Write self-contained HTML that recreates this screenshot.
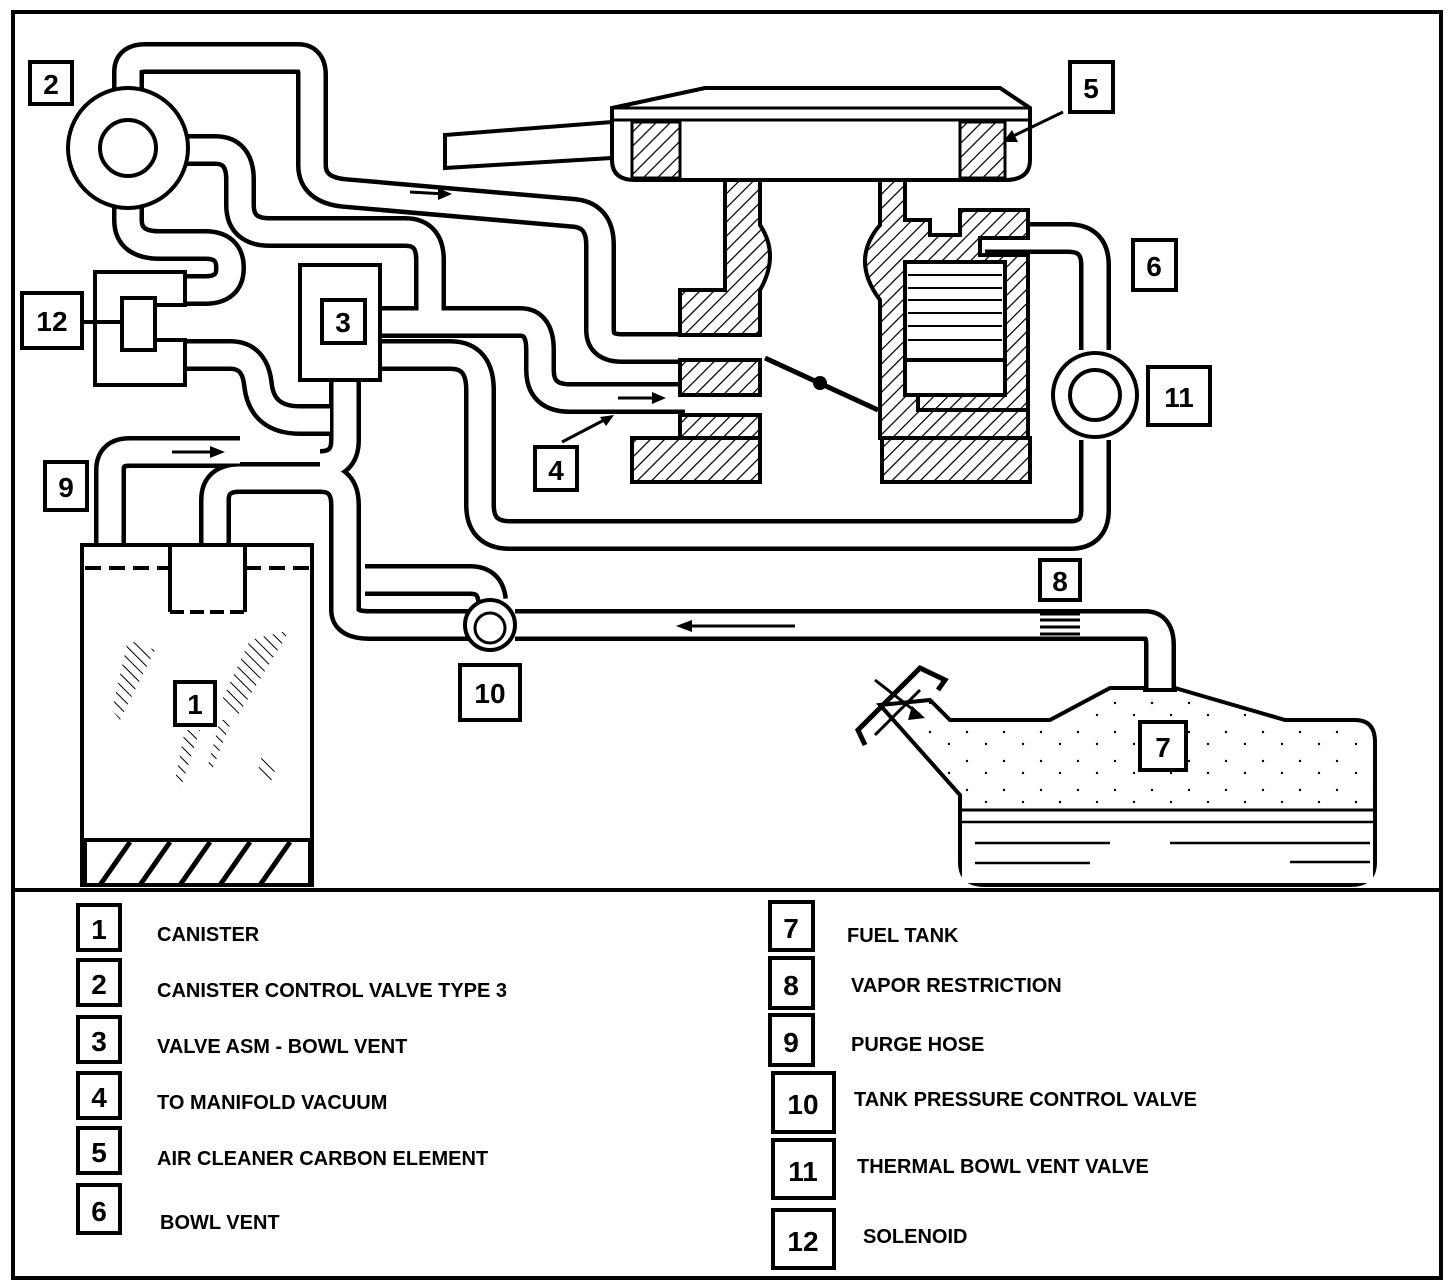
<!DOCTYPE html>
<html><head><meta charset="utf-8"><style>
html,body{margin:0;padding:0;background:#fff}
svg{display:block}
text{font-family:"Liberation Sans",sans-serif;font-weight:bold;fill:#000}
</style></head><body>
<svg width="1456" height="1286" viewBox="0 0 1456 1286" xmlns="http://www.w3.org/2000/svg">
<defs>
<pattern id="h" width="10" height="10" patternUnits="userSpaceOnUse" patternTransform="rotate(45)">
<rect width="10" height="10" fill="#fff"/><line x1="0" y1="0" x2="0" y2="10" stroke="#000" stroke-width="2.5"/></pattern>
<pattern id="hc" width="8" height="8" patternUnits="userSpaceOnUse" patternTransform="rotate(-45)">
<rect width="8" height="8" fill="#fff"/><line x1="0" y1="0" x2="0" y2="8" stroke="#000" stroke-width="2"/></pattern>
<pattern id="dots" width="37" height="29" patternUnits="userSpaceOnUse">
<rect width="37" height="29" fill="#fff"/><circle cx="5" cy="7" r="1.2"/><circle cx="24" cy="19" r="1.2"/></pattern>
</defs>
<rect x="13" y="12" width="1428" height="1266" fill="none" stroke="#000" stroke-width="4"/>
<line x1="13" y1="890" x2="1441" y2="890" stroke="#000" stroke-width="4"/>

<!-- hoses -->
<g fill="none" stroke-linejoin="round">
<g stroke="#000" stroke-width="32">
<path d="M128,95 V72 Q128,58 145,58 H298 Q312,58 312,75 V165 Q312,190 345,193 L575,213 Q600,216 600,245 V330 Q600,348 622,348 H685"/>
<path d="M185,150 H215 Q240,150 240,180 V205 Q240,232 270,232 H405 Q430,232 430,260 V318"/>
<path d="M380,322 H520 Q540,322 540,350 V370 Q540,398 570,398 H685"/>
<path d="M128,205 V220 Q128,245 160,245 H205 Q230,245 230,268 Q230,290 205,290 H185"/>
<path d="M185,355 H230 Q255,355 258,385 Q262,420 300,420 H330"/>
<path d="M345,380 V440 Q345,465 320,465"/>
<path d="M110,545 V470 Q110,452 130,452 H240"/>
<path d="M215,545 V500 Q215,478 240,478 H320 Q345,478 345,505 V610 Q345,625 370,625 H480"/>
<path d="M365,580 H470 Q490,580 492,600"/>
<path d="M380,355 H450 Q480,355 480,390 V505 Q480,535 510,535 H1070 Q1095,535 1095,510 V440"/>
<path d="M1095,350 V265 Q1095,238 1068,238 H985"/>
<path d="M515,625 H1145 Q1160,625 1160,645 V690"/>
</g>
<g stroke="#fff" stroke-width="23">
<path d="M128,95 V72 Q128,58 145,58 H298 Q312,58 312,75 V165 Q312,190 345,193 L575,213 Q600,216 600,245 V330 Q600,348 622,348 H685"/>
<path d="M185,150 H215 Q240,150 240,180 V205 Q240,232 270,232 H405 Q430,232 430,260 V318"/>
<path d="M380,322 H520 Q540,322 540,350 V370 Q540,398 570,398 H685"/>
<path d="M128,205 V220 Q128,245 160,245 H205 Q230,245 230,268 Q230,290 205,290 H185"/>
<path d="M185,355 H230 Q255,355 258,385 Q262,420 300,420 H330"/>
<path d="M345,380 V440 Q345,465 320,465"/>
<path d="M110,545 V470 Q110,452 130,452 H240"/>
<path d="M215,545 V500 Q215,478 240,478 H320 Q345,478 345,505 V610 Q345,625 370,625 H480"/>
<path d="M365,580 H470 Q490,580 492,600"/>
<path d="M380,355 H450 Q480,355 480,390 V505 Q480,535 510,535 H1070 Q1095,535 1095,510 V440"/>
<path d="M1095,350 V265 Q1095,238 1068,238 H985"/>
<path d="M515,625 H1145 Q1160,625 1160,645 V690"/>
</g>
</g>

<!-- valve 2 -->
<circle cx="128" cy="148" r="60" fill="#fff" stroke="#000" stroke-width="4"/>
<circle cx="128" cy="148" r="28" fill="#fff" stroke="#000" stroke-width="4"/>
<!-- solenoid 12 -->
<path d="M95,272 H185 V305 H155 V340 H185 V385 H95 Z" fill="#fff" stroke="#000" stroke-width="4"/>
<rect x="122" y="298" width="33" height="52" fill="#fff" stroke="#000" stroke-width="4"/>
<line x1="82" y1="322" x2="122" y2="322" stroke="#000" stroke-width="4"/>
<!-- box 3 -->
<rect x="300" y="265" width="80" height="115" fill="#fff" stroke="#000" stroke-width="4"/>

<!-- canister -->
<rect x="82" y="545" width="230" height="340" fill="#fff" stroke="#000" stroke-width="4"/>
<line x1="85" y1="568" x2="170" y2="568" stroke="#000" stroke-width="4" stroke-dasharray="16,8"/>
<line x1="245" y1="568" x2="310" y2="568" stroke="#000" stroke-width="4" stroke-dasharray="16,8"/>
<path d="M170,545 V612 M245,545 V612" stroke="#000" stroke-width="4"/>
<line x1="170" y1="612" x2="245" y2="612" stroke="#000" stroke-width="4" stroke-dasharray="14,6"/>
<path d="M85,885 V840 H310 V885" fill="none" stroke="#000" stroke-width="4"/>
<g stroke="#000" stroke-width="5">
<line x1="100" y1="885" x2="130" y2="842"/><line x1="140" y1="885" x2="170" y2="842"/><line x1="180" y1="885" x2="210" y2="842"/><line x1="220" y1="885" x2="250" y2="842"/><line x1="260" y1="885" x2="290" y2="842"/>
</g>
<g fill="url(#hc)">
<polygon points="128,640 155,650 120,720 112,710"/>
<polygon points="250,640 290,630 235,720 222,700"/>
<polygon points="185,730 200,730 180,790 175,780"/>
<polygon points="220,720 232,720 212,770 208,765"/>
<polygon points="262,755 275,770 270,785 258,770"/>
</g>
<!-- valve 10 -->
<circle cx="490" cy="625" r="25" fill="#fff" stroke="#000" stroke-width="4"/>
<circle cx="490" cy="628" r="15" fill="#fff" stroke="#000" stroke-width="3"/>

<!-- carburetor air cleaner -->
<path d="M445,135 L612,122 V158 L445,168 Z" fill="#fff" stroke="#000" stroke-width="4"/>
<path d="M612,108 L705,88 H1000 L1030,108 V160 Q1030,180 1005,180 H635 Q612,180 612,160 Z" fill="#fff" stroke="#000" stroke-width="4"/>
<line x1="612" y1="108" x2="1030" y2="108" stroke="#000" stroke-width="3"/>
<line x1="612" y1="120" x2="1030" y2="120" stroke="#000" stroke-width="3"/>
<rect x="632" y="122" width="48" height="56" fill="url(#h)" stroke="#000" stroke-width="3"/>
<rect x="960" y="122" width="45" height="56" fill="url(#h)" stroke="#000" stroke-width="3"/>
<!-- left throat -->
<path d="M725,180 H760 V225 Q780,255 760,290 V335 H680 V290 H725 Z" fill="url(#h)" stroke="#000" stroke-width="4"/>
<rect x="680" y="360" width="80" height="35" fill="url(#h)" stroke="#000" stroke-width="4"/>
<rect x="680" y="415" width="80" height="23" fill="url(#h)" stroke="#000" stroke-width="4"/>
<rect x="632" y="438" width="128" height="44" fill="url(#h)" stroke="#000" stroke-width="4"/>
<!-- right throat -->
<path d="M880,180 H905 V220 H930 V235 H960 V210 H1028 V238 H980 V255 H1028 V410 H918 V395 H1005 V262 H905 V395 H918 V410 H1028 V438 H880 V300 Q850,260 880,225 Z" fill="url(#h)" stroke="#000" stroke-width="4"/>
<rect x="905" y="262" width="100" height="98" fill="#fff" stroke="#000" stroke-width="4"/>
<g stroke="#000" stroke-width="2"><line x1="908" y1="275" x2="1002" y2="275"/><line x1="908" y1="288" x2="1002" y2="288"/><line x1="908" y1="300" x2="1002" y2="300"/><line x1="908" y1="313" x2="1002" y2="313"/><line x1="908" y1="326" x2="1002" y2="326"/><line x1="908" y1="340" x2="1002" y2="340"/></g>
<rect x="882" y="438" width="148" height="44" fill="url(#h)" stroke="#000" stroke-width="4"/>
<line x1="765" y1="358" x2="878" y2="410" stroke="#000" stroke-width="5"/>
<circle cx="820" cy="383" r="7" fill="#000"/>

<!-- valve 11 -->
<circle cx="1095" cy="395" r="42" fill="#fff" stroke="#000" stroke-width="4"/>
<circle cx="1095" cy="395" r="25" fill="#fff" stroke="#000" stroke-width="4"/>
<!-- restriction 8 -->
<g stroke="#000" stroke-width="3"><line x1="1040" y1="614" x2="1080" y2="614"/><line x1="1040" y1="620" x2="1080" y2="620"/><line x1="1040" y1="627" x2="1080" y2="627"/><line x1="1040" y1="634" x2="1080" y2="634"/></g>

<!-- tank -->
<path d="M930,700 L950,720 H1050 L1110,688 H1145 V690 H1175 V688 L1285,720 H1355 Q1375,720 1375,742 V862 Q1375,885 1350,885 H985 Q960,885 960,862 V795 L880,705 Z" fill="url(#dots)" stroke="#000" stroke-width="4"/>
<path d="M962,810 H1373" stroke="#000" stroke-width="3"/>
<rect x="962" y="812" width="411" height="71" fill="#fff"/>
<g stroke="#000" stroke-width="2.5"><line x1="962" y1="822" x2="1373" y2="822"/><line x1="975" y1="843" x2="1110" y2="843"/><line x1="975" y1="863" x2="1090" y2="863"/><line x1="1170" y1="843" x2="1370" y2="843"/><line x1="1290" y1="862" x2="1370" y2="862"/></g>
<path d="M865,745 L858,730 L920,668 L945,680 L938,690" fill="none" stroke="#000" stroke-width="5"/>
<path d="M875,735 L920,690 M875,680 L920,715" stroke="#000" stroke-width="3" fill="none"/>
<polygon points="912,706 925,718 908,720" fill="#000"/>

<!-- arrows -->
<g stroke="#000" stroke-width="3">
<line x1="410" y1="192" x2="445" y2="194"/><line x1="172" y1="452" x2="215" y2="452"/><line x1="618" y1="398" x2="658" y2="398"/><line x1="690" y1="626" x2="795" y2="626"/>
<line x1="562" y1="442" x2="608" y2="418"/><line x1="1005" y1="140" x2="1063" y2="112"/>
</g>
<g fill="#000">
<polygon points="452,194 438,188 438,200"/><polygon points="225,452 210,446 210,458"/><polygon points="666,398 652,392 652,404"/><polygon points="676,626 692,620 692,632"/><polygon points="614,415 600,417 606,426"/><polygon points="1003,142 1018,142 1012,130"/>
</g>

<!-- labels -->
<g fill="#fff" stroke="#000" stroke-width="4">
<rect x="30" y="62" width="42" height="42"/><rect x="1070" y="62" width="43" height="50"/><rect x="22" y="293" width="60" height="55"/><rect x="322" y="300" width="43" height="43"/><rect x="1133" y="240" width="43" height="50"/><rect x="1148" y="367" width="62" height="58"/><rect x="535" y="447" width="42" height="43"/><rect x="45" y="462" width="42" height="48"/><rect x="1040" y="560" width="40" height="40"/><rect x="460" y="665" width="60" height="55"/><rect x="175" y="682" width="40" height="43"/><rect x="1140" y="722" width="46" height="48"/>
</g>
<g font-size="28" text-anchor="middle">
<text x="51" y="94">2</text><text x="1091" y="98">5</text><text x="52" y="331">12</text><text x="343" y="332">3</text><text x="1154" y="276">6</text><text x="1179" y="407">11</text><text x="556" y="480">4</text><text x="66" y="497">9</text><text x="1060" y="591">8</text><text x="490" y="703">10</text><text x="195" y="714">1</text><text x="1163" y="757">7</text>
</g>

<!-- legend -->
<g fill="#fff" stroke="#000" stroke-width="4">
<rect x="78" y="905" width="42" height="45"/><rect x="78" y="960" width="42" height="45"/><rect x="78" y="1017" width="42" height="45"/><rect x="78" y="1073" width="42" height="45"/><rect x="78" y="1128" width="42" height="45"/><rect x="78" y="1185" width="42" height="48"/>
<rect x="770" y="902" width="43" height="48"/><rect x="770" y="958" width="43" height="50"/><rect x="770" y="1015" width="43" height="50"/><rect x="773" y="1073" width="61" height="59"/><rect x="773" y="1140" width="61" height="58"/><rect x="773" y="1210" width="61" height="58"/>
</g>
<g font-size="28" text-anchor="middle">
<text x="99" y="939">1</text><text x="99" y="994">2</text><text x="99" y="1051">3</text><text x="99" y="1107">4</text><text x="99" y="1162">5</text><text x="99" y="1221">6</text>
<text x="791" y="938">7</text><text x="791" y="995">8</text><text x="791" y="1052">9</text><text x="803" y="1114">10</text><text x="803" y="1181">11</text><text x="803" y="1251">12</text>
</g>
<g font-size="20">
<text x="157" y="941">CANISTER</text>
<text x="157" y="997">CANISTER CONTROL VALVE TYPE 3</text>
<text x="157" y="1053">VALVE ASM - BOWL VENT</text>
<text x="157" y="1109">TO MANIFOLD VACUUM</text>
<text x="157" y="1165">AIR CLEANER CARBON ELEMENT</text>
<text x="160" y="1229">BOWL VENT</text>
<text x="847" y="942">FUEL TANK</text>
<text x="851" y="992">VAPOR RESTRICTION</text>
<text x="851" y="1051">PURGE HOSE</text>
<text x="854" y="1106">TANK PRESSURE CONTROL VALVE</text>
<text x="857" y="1173">THERMAL BOWL VENT VALVE</text>
<text x="863" y="1243">SOLENOID</text>
</g>
</svg>
</body></html>
